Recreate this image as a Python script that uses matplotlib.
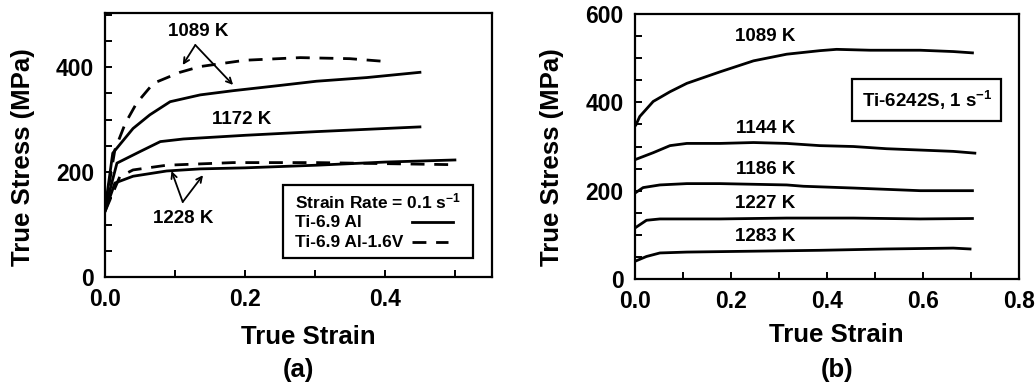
import matplotlib
matplotlib.use("Agg")
import matplotlib.pyplot as plt
from matplotlib.ticker import MultipleLocator, FormatStrFormatter
from matplotlib.patches import Rectangle

plt.rcParams['font.family'] = ['Liberation Sans', 'DejaVu Sans']
plt.rcParams['font.weight'] = 'bold'
plt.rcParams['mathtext.fontset'] = 'custom'
plt.rcParams['mathtext.rm'] = 'Liberation Sans:bold'
plt.rcParams['mathtext.bf'] = 'Liberation Sans:bold'
plt.rcParams['mathtext.default'] = 'bf'

# (a) Ti-6.9Al (solid) and Ti-6.9Al-1.6V (dashed), strain rate 0.1 1/s
a_1089_solid_x = [0.0, 0.011, 0.04, 0.064, 0.093, 0.136, 0.183, 0.25, 0.302, 0.374, 0.45]
a_1089_solid_y = [130, 236, 283, 309, 334, 347, 355, 365, 373, 380, 390]
a_1172_solid_x = [0.0, 0.017, 0.05, 0.079, 0.112, 0.2, 0.302, 0.45]
a_1172_solid_y = [130, 217, 239, 258, 263, 270, 277, 286]
a_1228_solid_x = [0.0, 0.014, 0.04, 0.088, 0.136, 0.2, 0.302, 0.4, 0.5]
a_1228_solid_y = [125, 179, 192, 202, 206, 208, 213, 219, 223]
a_1089_dash_x = [0.0, 0.014, 0.029, 0.045, 0.069, 0.107, 0.136, 0.2, 0.279, 0.35, 0.407]
a_1089_dash_y = [130, 242, 293, 331, 369, 390, 401, 413, 418, 416, 410]
a_1228_dash_x = [0.0, 0.021, 0.04, 0.088, 0.183, 0.302, 0.4, 0.5]
a_1228_dash_y = [125, 191, 204, 213, 218, 218, 216, 214]

# (b) Ti-6242S, 1 1/s
b_1089_x = [0.002, 0.01, 0.038, 0.073, 0.108, 0.177, 0.247, 0.316, 0.385, 0.42, 0.49, 0.594, 0.663, 0.703]
b_1089_y = [349, 368, 402, 424, 443, 469, 494, 509, 517, 520, 518, 518, 515, 512]
b_1144_x = [0.002, 0.038, 0.073, 0.108, 0.177, 0.247, 0.316, 0.385, 0.455, 0.524, 0.594, 0.663, 0.708]
b_1144_y = [271, 286, 302, 307, 307, 309, 307, 302, 300, 295, 292, 289, 285]
b_1186_x = [0.002, 0.017, 0.052, 0.108, 0.177, 0.316, 0.351, 0.455, 0.594, 0.703]
b_1186_y = [196, 207, 213, 216, 216, 213, 210, 206, 200, 200]
b_1227_x = [0.002, 0.024, 0.052, 0.177, 0.316, 0.455, 0.594, 0.703]
b_1227_y = [117, 133, 136, 136, 138, 138, 136, 137]
b_1283_x = [0.002, 0.024, 0.052, 0.108, 0.247, 0.385, 0.524, 0.663, 0.698]
b_1283_y = [41, 51, 59, 61, 63, 65, 68, 70, 68]

b_labels = ["1089 K", "1144 K", "1186 K", "1227 K", "1283 K"]
b_label_y = [549, 341, 247, 170, 96]

LW = 2.0
DASH = (5, 3.5)
ANN = 13.5
LEG = 12.5
LABEL = 18.5

fig = plt.figure(figsize=(10.36, 3.85), dpi=100)
ax1 = fig.add_axes([0.1014, 0.2805, 0.3735, 0.6857])
ax2 = fig.add_axes([0.6129, 0.2753, 0.3707, 0.6883])


def style_axes(ax):
    for s in ax.spines.values():
        s.set_linewidth(1.6)
    ax.tick_params(which='both', direction='in', width=1.4, length=5,
                   labelsize=16.5, pad=8)
    ax.xaxis.set_major_locator(MultipleLocator(0.2))
    ax.xaxis.set_minor_locator(MultipleLocator(0.1))
    ax.yaxis.set_major_locator(MultipleLocator(200))
    ax.yaxis.set_minor_locator(MultipleLocator(50))
    ax.xaxis.set_major_formatter(FormatStrFormatter('%.1f'))


# ---- panel (a)
ax1.plot(a_1089_solid_x, a_1089_solid_y, color='black', lw=LW)
ax1.plot(a_1172_solid_x, a_1172_solid_y, color='black', lw=LW)
ax1.plot(a_1228_solid_x, a_1228_solid_y, color='black', lw=LW)
ax1.plot(a_1089_dash_x, a_1089_dash_y, color='black', lw=LW, dashes=DASH)
ax1.plot(a_1228_dash_x, a_1228_dash_y, color='black', lw=LW, dashes=DASH)
ax1.set_xlim(0, 0.553)
ax1.set_ylim(0, 503)
style_axes(ax1)

arrow = dict(arrowstyle='->', color='black', lw=1.3, shrinkA=0, shrinkB=0)
ax1.text(0.133, 467, "1089 K", ha='center', va='center', fontsize=ANN)
ax1.annotate("", xy=(0.111, 404), xytext=(0.129, 442), arrowprops=arrow)
ax1.annotate("", xy=(0.183, 366), xytext=(0.129, 442), arrowprops=arrow)
ax1.text(0.195, 300, "1172 K", ha='center', va='center', fontsize=ANN)
ax1.text(0.111, 112, "1228 K", ha='center', va='center', fontsize=ANN)
ax1.annotate("", xy=(0.095, 202), xytext=(0.111, 143), arrowprops=arrow)
ax1.annotate("", xy=(0.140, 194), xytext=(0.111, 143), arrowprops=arrow)

# legend box drawn by hand: labels left, line samples right
ax1.add_patch(Rectangle((0.460, 0.072), 0.491, 0.276, transform=ax1.transAxes,
                        facecolor='white', edgecolor='black', lw=1.6, zorder=4))
ax1.text(0.491, 0.288, "Strain Rate = 0.1 s$^{-1}$", transform=ax1.transAxes,
         ha='left', va='center', fontsize=LEG, zorder=5)
ax1.text(0.491, 0.206, "Ti-6.9 Al", transform=ax1.transAxes,
         ha='left', va='center', fontsize=LEG, zorder=5)
ax1.text(0.491, 0.131, "Ti-6.9 Al-1.6V", transform=ax1.transAxes,
         ha='left', va='center', fontsize=LEG, zorder=5)
ax1.plot([0.792, 0.898], [0.209, 0.209], transform=ax1.transAxes, color='black',
         lw=LW, zorder=5)
ax1.plot([0.7925, 0.8865], [0.134, 0.134], transform=ax1.transAxes, color='black',
         lw=LW, dashes=DASH, zorder=5)

fig.text(0.0225, 0.592, "True Stress (MPa)", rotation=90, ha='center', va='center',
         fontsize=LABEL)
fig.text(0.298, 0.125, "True Strain", ha='center', va='center', fontsize=LABEL)
fig.text(0.288, 0.039, "(a)", ha='center', va='center', fontsize=LABEL)

# ---- panel (b)
for xs, ys in [(b_1089_x, b_1089_y), (b_1144_x, b_1144_y), (b_1186_x, b_1186_y),
               (b_1227_x, b_1227_y), (b_1283_x, b_1283_y)]:
    ax2.plot(xs, ys, color='black', lw=LW)
for lab, yv in zip(b_labels, b_label_y):
    ax2.text(0.272, yv, lab, ha='center', va='center', fontsize=ANN)

ax2.text(0.760, 0.675, "Ti-6242S, 1 s$^{-1}$", transform=ax2.transAxes,
         ha='center', va='center', fontsize=ANN,
         bbox=dict(boxstyle='square,pad=0.5', facecolor='white', edgecolor='black', lw=1.6))
ax2.set_xlim(0, 0.8)
ax2.set_ylim(0, 600)
style_axes(ax2)

fig.text(0.533, 0.592, "True Stress (MPa)", rotation=90, ha='center', va='center',
         fontsize=LABEL)
fig.text(0.807, 0.130, "True Strain", ha='center', va='center', fontsize=LABEL)
fig.text(0.808, 0.039, "(b)", ha='center', va='center', fontsize=LABEL)

fig.savefig("out.png", dpi=100)
